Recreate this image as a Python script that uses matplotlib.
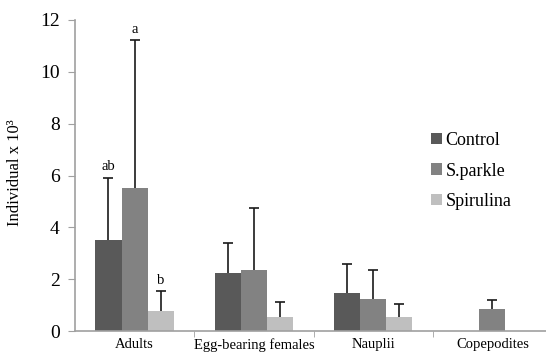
import matplotlib
matplotlib.use("Agg")
import matplotlib.pyplot as plt
import numpy as np

categories = ["Adults", "Egg-bearing females", "Nauplii", "Copepodites"]
series_names = ["Control", "S.parkle", "Spirulina"]
control = [3.51, 2.23, 1.45, 0.0]
sparkle = [5.53, 2.35, 1.22, 0.84]
spirulina = [0.77, 0.55, 0.53, 0.0]
control_err = [2.41, 1.15, 1.12, 0.0]
sparkle_err = [5.70, 2.41, 1.14, 0.36]
spirulina_err = [0.77, 0.57, 0.51, 0.0]
letters = {("Control", 0): "ab", ("S.parkle", 0): "a", ("Spirulina", 0): "b"}
colors = ["#595959", "#828282", "#bfbfbf"]

plt.rcParams['font.family'] = ['Liberation Serif', 'DejaVu Serif']

fig = plt.figure(figsize=(5.46, 3.54), dpi=100)
ax = fig.add_axes([75/546, 23/354, 477/546, 311/354])

x = np.arange(len(categories))
w = 0.22
vals = [control, sparkle, spirulina]
errs = [control_err, sparkle_err, spirulina_err]
for i, (name, v, e, c) in enumerate(zip(series_names, vals, errs, colors)):
    pos = x + (i - 1) * w
    ax.bar(pos, v, width=w, color=c, label=name, zorder=2)
    for j in range(len(categories)):
        if e[j] > 0:
            eb = ax.errorbar(pos[j], v[j], yerr=[[0], [e[j]]], fmt='none',
                             ecolor='#1a1a1a', elinewidth=1.2, capsize=3.5,
                             capthick=1.2, zorder=3)
            caps = eb.lines[1]
            if len(caps) > 1:
                caps[0].set_visible(False)
        key = (name, j)
        if key in letters:
            ax.annotate(letters[key], (pos[j], v[j] + e[j]),
                        xytext=(0, 3), textcoords='offset points',
                        ha='center', va='bottom', fontsize=10.5)

ax.set_xlim(-0.5, 3.5)
ax.set_ylim(0, 12)
ax.set_yticks(range(0, 13, 2))
ax.tick_params(axis='y', labelsize=14, length=5, color='#a0a0a0', pad=6)
ax.set_xticks(x)
ax.set_xticklabels(categories, fontsize=10.5)
ax.tick_params(axis='x', which='major', length=0, pad=5)
ax.set_xticks([0.5, 1.5, 2.5], minor=True)
ax.tick_params(axis='x', which='minor', length=4, color='#a0a0a0')

for s in ['top', 'right']:
    ax.spines[s].set_visible(False)
for s in ['left', 'bottom']:
    ax.spines[s].set_color('#a0a0a0')
    ax.spines[s].set_linewidth(1.2)

ax.set_ylabel("Individual x 10³", fontsize=12)
ax.yaxis.set_label_coords(-0.11, 0.51)

leg = ax.legend(loc='upper left', bbox_to_anchor=(431/546, 1 - 132/354),
                bbox_transform=fig.transFigure, frameon=False, fontsize=13,
                handlelength=0.6, handleheight=0.6, handletextpad=0.2,
                labelspacing=0.75, borderpad=0, borderaxespad=0)

fig.savefig("out.png", dpi=100)
